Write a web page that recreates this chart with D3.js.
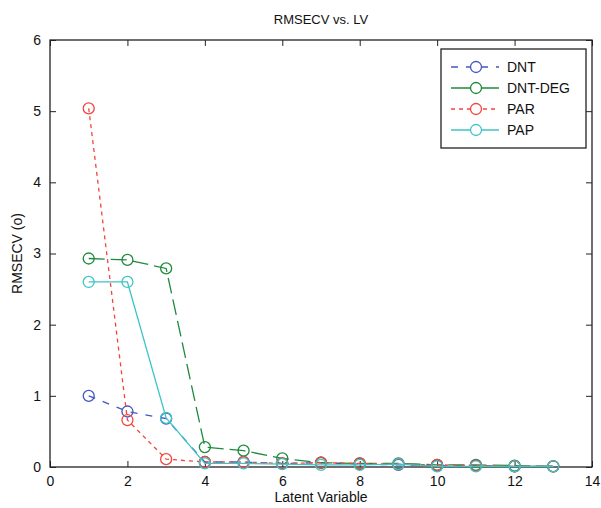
<!DOCTYPE html>
<html><head><meta charset="utf-8">
<script src="https://cdn.jsdelivr.net/npm/d3@7"></script>
<style>body{margin:0;background:#fff}text{font-family:Arial,"Liberation Sans",sans-serif}</style>
</head><body><svg id="c" width="601" height="508"></svg>
<script>
const lv = [1,2,3,4,5,6,7,8,9,10,11,12,13];
const dnt    = [1.00,0.78,0.68,0.07,0.07,0.05,0.06,0.04,0.03,0.02,0.02,0.01,0.01];
const dntDeg = [2.93,2.91,2.79,0.28,0.23,0.12,0.06,0.05,0.05,0.03,0.03,0.02,0.01];
const par    = [5.04,0.66,0.11,0.07,0.07,0.05,0.06,0.05,0.04,0.03,0.02,0.01,0.01];
const pap    = [2.60,2.60,0.69,0.05,0.05,0.04,0.03,0.03,0.04,0.01,0.01,0.01,0.01];
const xTicks = [0,2,4,6,8,10,12,14];
const yTicks = [0,1,2,3,4,5,6];
const names = ["DNT","DNT-DEG","PAR","PAP"];

const series = [
  {name:names[0], vals:dnt, color:"#4557c0", dash:"7,8", legDash:"7,8"},
  {name:names[1], vals:dntDeg, color:"#1e8a3c", dash:"16,6", legDash:null},
  {name:names[2], vals:par, color:"#f2453c", dash:"4,4", legDash:"4,4"},
  {name:names[3], vals:pap, color:"#3fc4c6", dash:null, legDash:null}
];

const svg = d3.select("#c");
const L=50, R=592, T=40, B=467;
const x = d3.scaleLinear().domain([0,14]).range([L,R]);
const y = d3.scaleLinear().domain([0,6]).range([B,T]);

// frame
svg.append("rect").attr("x",L).attr("y",T).attr("width",R-L).attr("height",B-T)
  .attr("fill","none").attr("stroke","#222").attr("stroke-width",1.3);

const g = svg.append("g");
const xa = d3.axisBottom(x).tickValues(xTicks).tickSize(-6).tickPadding(9).tickFormat(d3.format("d"));
const ya = d3.axisLeft(y).tickValues(yTicks).tickSize(-6).tickPadding(9).tickFormat(d3.format("d"));
const gx = svg.append("g").attr("transform",`translate(0,${B})`).call(xa);
const gy = svg.append("g").attr("transform",`translate(${L},0)`).call(ya);
const gxt = svg.append("g").attr("transform",`translate(0,${T})`).call(d3.axisTop(x).tickValues(xTicks).tickSize(-6).tickFormat(""));
const gyr = svg.append("g").attr("transform",`translate(${R},0)`).call(d3.axisRight(y).tickValues(yTicks).tickSize(-6).tickFormat(""));
[gx,gy,gxt,gyr].forEach(a=>{a.select(".domain").remove();a.selectAll("line").attr("stroke","#222");
  a.selectAll("text").attr("font-size",14).attr("fill","#111");});

const line = d3.line().x((d,i)=>x(lv[i])).y(d=>y(d));
series.forEach(s=>{
  svg.append("path").datum(s.vals).attr("d",line).attr("fill","none")
    .attr("stroke",s.color).attr("stroke-width",1.3).attr("stroke-dasharray",s.dash);
  svg.append("g").selectAll("circle").data(s.vals).join("circle")
    .attr("cx",(d,i)=>x(lv[i])).attr("cy",d=>y(d)).attr("r",5.5)
    .attr("fill","none").attr("stroke",s.color).attr("stroke-width",1.3);
});

// legend
const lg = svg.append("g");
lg.append("rect").attr("x",441).attr("y",49).attr("width",145).attr("height",99)
  .attr("fill","#fff").attr("stroke","#222").attr("stroke-width",1.3);
series.forEach((s,i)=>{
  const yy = 67 + i*21;
  lg.append("line").attr("x1",451).attr("x2",499).attr("y1",yy).attr("y2",yy)
    .attr("stroke",s.color).attr("stroke-width",1.3).attr("stroke-dasharray",s.legDash);
  lg.append("circle").attr("cx",476).attr("cy",yy).attr("r",5.5).attr("fill","#fff")
    .attr("stroke",s.color).attr("stroke-width",1.3);
  lg.append("text").attr("x",507).attr("y",yy+5).attr("font-size",14).attr("fill","#111").text(s.name);
});

svg.append("text").attr("x",(L+R)/2).attr("y",24).attr("text-anchor","middle").attr("font-size",13).attr("fill","#111").text("RMSECV vs. LV");
svg.append("text").attr("x",(L+R)/2).attr("y",502).attr("text-anchor","middle").attr("font-size",14).attr("fill","#111").text("Latent Variable");
svg.append("text").attr("transform",`translate(22,${(T+B)/2}) rotate(-90)`).attr("text-anchor","middle").attr("font-size",14).attr("fill","#111").text("RMSECV (o)");
</script></body></html>
